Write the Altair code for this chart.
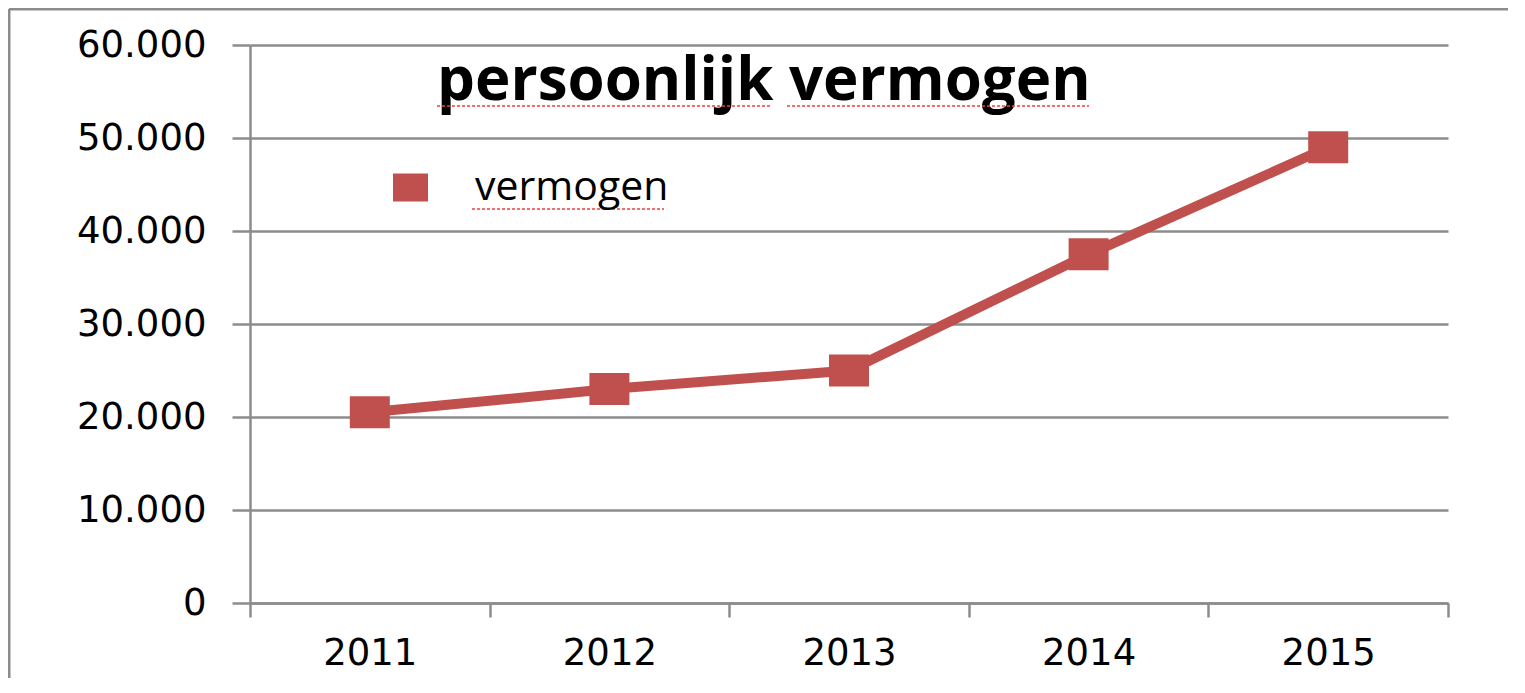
import altair as alt
import pandas as pd

years = ["2011", "2012", "2013", "2014", "2015"]
values = [20500, 23000, 25000, 37500, 49000]
series = ["vermogen"] * 5
y_ticks = [0, 10000, 20000, 30000, 40000, 50000, 60000]
title_text = "persoonlijk vermogen"

df = pd.DataFrame({"jaar": years, "vermogen": values, "reeks": series})

RED = "#C0504D"
GRID = "#8C8C8C"
SPELL = "#F04040"
RECT = "M-1,-0.8H1V0.8H-1Z"

x = alt.X(
    "jaar:N", title=None, sort=years,
    scale=alt.Scale(paddingInner=0, paddingOuter=0),
    axis=alt.Axis(labelAngle=0, labelFont="DejaVu Sans", labelFontSize=37,
                  labelColor="black", tickBand="extent", tickSize=14,
                  tickColor=GRID, tickWidth=2.5, domainColor=GRID,
                  domainWidth=2.5, labelPadding=18, grid=False),
)
y = alt.Y(
    "vermogen:Q", title=None,
    scale=alt.Scale(domain=[0, 60000], nice=False),
    axis=alt.Axis(values=y_ticks,
                  labelExpr="replace(format(datum.value, ','), ',', '.')",
                  labelFont="DejaVu Sans", labelFontSize=37, labelColor="black",
                  tickSize=18, tickColor=GRID, tickWidth=2.5,
                  domainColor=GRID, domainWidth=2.5, labelPadding=26,
                  grid=True, gridColor=GRID, gridWidth=2.5, gridOpacity=1),
)

line = alt.Chart(df).mark_line(color=RED, strokeWidth=10).encode(x=x, y=y)

points = alt.Chart(df).mark_point(shape=RECT, filled=True, size=1600, opacity=1).encode(
    x=x, y=y,
    color=alt.Color("reeks:N", scale=alt.Scale(range=[RED]),
                    legend=alt.Legend(title=None, orient="none", legendX=140, legendY=122,
                                      symbolType=RECT, symbolSize=1225, symbolOpacity=1,
                                      symbolStrokeWidth=0, labelFont="Open Sans",
                                      labelFontSize=41, labelColor="black",
                                      labelOffset=44, labelLimit=600, padding=0)),
)

frame_df = pd.DataFrame({"k": [0]})
left_border = alt.Chart(frame_df).mark_rule(color=GRID, strokeWidth=3).encode(
    x=alt.value(-241), x2=alt.value(-241), y=alt.value(-36), y2=alt.value(700))
top_border = alt.Chart(frame_df).mark_rule(color=GRID, strokeWidth=3).encode(
    x=alt.value(-241), x2=alt.value(1400), y=alt.value(-36), y2=alt.value(-36))

title = alt.Chart(frame_df).mark_text(
    text=title_text, font="Open Sans", fontSize=60, fontWeight="bold", color="black",
    align="left", baseline="alphabetic").encode(x=alt.value(187), y=alt.value(55))


def spell_line(x1, x2, yy):
    return alt.Chart(frame_df).mark_rule(color=SPELL, strokeWidth=1.5, strokeDash=[3, 2]).encode(
        x=alt.value(x1), x2=alt.value(x2), y=alt.value(yy), y2=alt.value(yy))


spell = [spell_line(187, 521, 61), spell_line(537, 839, 61), spell_line(222, 414, 164)]

chart = alt.layer(left_border, top_border, line, points, title, *spell).properties(
    width=1198, height=558,
    autosize="none",
    padding={"left": 242, "top": 37, "right": 60, "bottom": 75},
    background="white",
).configure_view(stroke=None)

chart.save("out.html", embed_options={"renderer": "svg", "actions": False})
